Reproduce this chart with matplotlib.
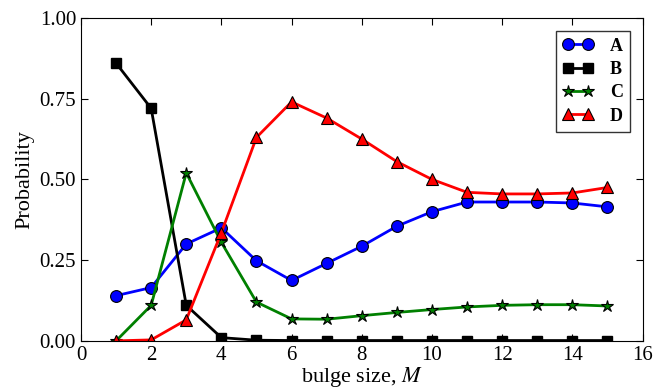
import numpy as np
import matplotlib
matplotlib.use('Agg')
import matplotlib.pyplot as plt

plt.rcParams['font.family'] = ['Liberation Serif', 'DejaVu Serif']
plt.rcParams['mathtext.fontset'] = 'stix'
plt.rcParams['xtick.direction'] = 'in'
plt.rcParams['ytick.direction'] = 'in'

M = np.arange(1, 16)
A = [0.14, 0.165, 0.30, 0.35, 0.248, 0.187, 0.24, 0.293, 0.355, 0.40, 0.43, 0.43, 0.43, 0.427, 0.415]
B = [0.86, 0.72, 0.11, 0.01, 0.002, 0.001, 0.001, 0.001, 0.001, 0.001, 0.001, 0.001, 0.001, 0.001, 0.001]
C = [0.0, 0.11, 0.52, 0.305, 0.12, 0.068, 0.067, 0.078, 0.088, 0.097, 0.105, 0.11, 0.112, 0.112, 0.108]
D = [0.0, 0.003, 0.065, 0.335, 0.63, 0.74, 0.69, 0.625, 0.555, 0.50, 0.46, 0.455, 0.455, 0.458, 0.475]

fig = plt.figure(figsize=(6.53, 3.9), dpi=100)
ax = fig.add_axes([0.124, 0.126, 0.86, 0.828])

ax.plot(M, A, '-o', color='blue', lw=2, ms=8.5, mec='black', mew=0.8, label='A')
ax.plot(M, B, '-s', color='black', lw=2, ms=7.5, mec='black', label='B')
ax.plot(M, C, '-*', color='green', lw=2, ms=9, mec='black', mew=0.8, label='C')
ax.plot(M, D, '-^', color='red', lw=2, ms=9, mec='black', mew=0.8, label='D')

ax.set_xlim(0, 16)
ax.set_ylim(0, 1)
ax.set_xticks(np.arange(0, 17, 2))
ax.set_yticks([0, 0.25, 0.5, 0.75, 1.0])
ax.set_yticklabels(['0.00', '0.25', '0.50', '0.75', '1.00'])
ax.tick_params(top=True, right=True, labelsize=15, length=5)
ax.set_xlabel('bulge size, $M$', fontsize=16, labelpad=0)
ax.set_ylabel('Probability', fontsize=16)

leg = ax.legend(loc='upper right', numpoints=2, fancybox=False, edgecolor='black',
                prop={'weight': 'bold', 'size': 13}, handlelength=1.7,
                labelspacing=0.35, borderaxespad=0.7, handletextpad=0.9)
leg.get_frame().set_linewidth(1.0)

fig.savefig('out.png', dpi=100)
